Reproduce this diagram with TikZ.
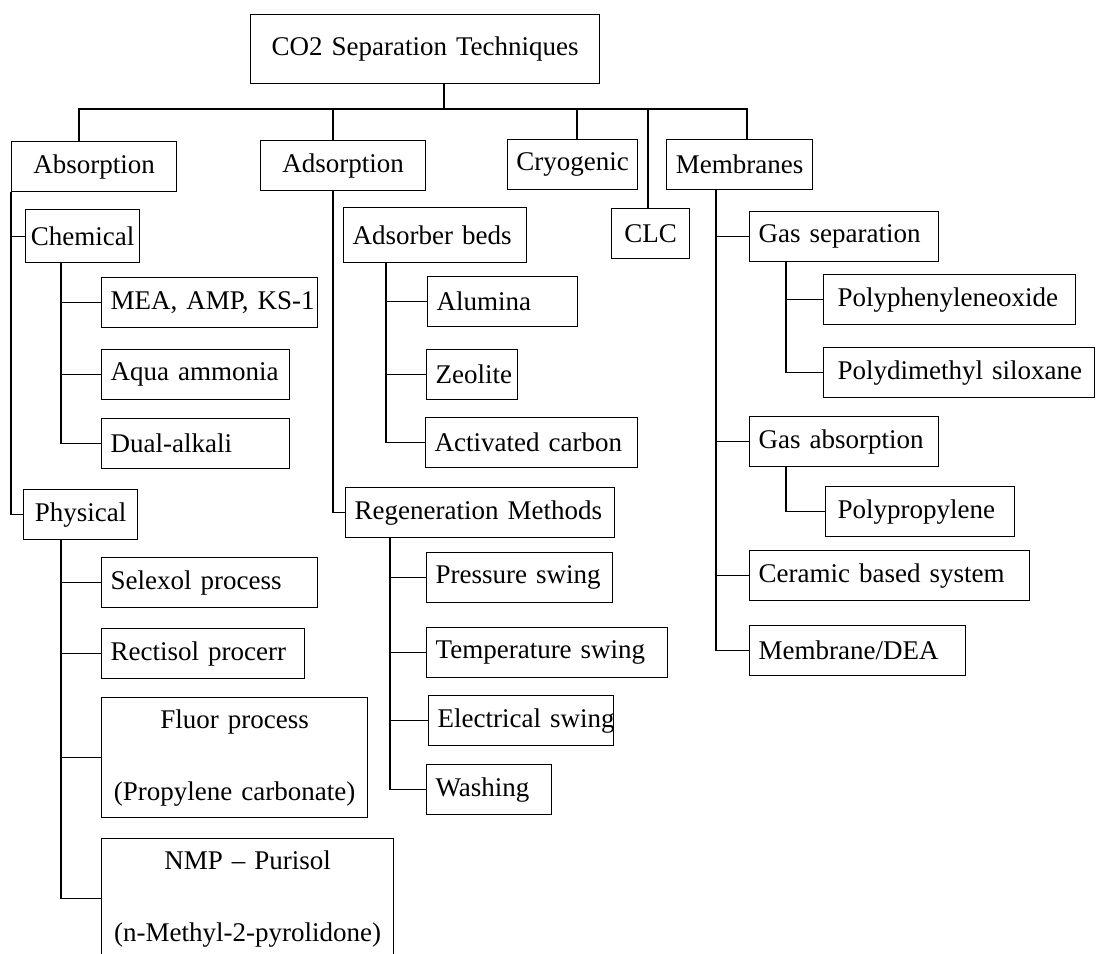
\documentclass[tikz,border=0pt]{standalone}
\usepackage{fontspec}
\setmainfont{Liberation Serif}

\begin{document}
\begin{tikzpicture}
	[x=1pt,y=-1pt,line width=1.3pt,
	 box/.style={draw,anchor=north west,inner ysep=0pt,minimum height=50pt,font=\fontsize{27}{32}\selectfont},
	 cbox/.style={box,inner xsep=0pt,text width=#1pt,align=center},
	 lbox/.style={box,inner xsep=9pt,text width=#1pt,align=left,
	   execute at begin node=\hbox\bgroup,execute at end node=\egroup},
	 twoline/.style={font=\fontsize{27}{72}\selectfont,minimum height=120pt}]
\useasboundingbox (0,0) rectangle (1097,953);
% top levels
\node[cbox=349,minimum height=69pt] (root) at (250,14) {CO2 Separation Techniques};
\node[cbox=165] (abs) at (11,141) {Absorption};
\node[cbox=165] (ads) at (260,140) {Adsorption};
\node[cbox=130] (cryo) at (507,139) {Cryogenic};
\node[cbox=146] (mem) at (666,139) {Membranes};
\node[cbox=78] (clc) at (611,208) {CLC};
% absorption
\node[cbox=114,minimum height=53pt] (chem) at (25,209) {Chemical};
\node[lbox=198] (mea) at (101,277) {MEA, AMP, KS-1};
\node[lbox=170] (aqua) at (101,349) {Aqua ammonia};
\node[lbox=170] (dual) at (101,418) {Dual-alkali};
\node[cbox=114] (phys) at (23,489) {Physical};
\node[lbox=198] (selex) at (101,557) {Selexol process};
\node[lbox=185] (rect) at (101,628) {Rectisol procerr};
\node[cbox=266,twoline] (fluor) at (101,697) {Fluor process\\(Propylene carbonate)};
\node[cbox=292,twoline] (nmp) at (101,838) {NMP -- Purisol\\(n-Methyl-2-pyrolidone)};
% adsorption
\node[lbox=165,minimum height=55pt] (beds) at (343,207) {Adsorber beds};
\node[lbox=132] (alu) at (427,276) {Alumina};
\node[lbox=73] (zeo) at (426,349) {Zeolite};
\node[lbox=194] (actc) at (425,417) {Activated carbon};
\node[lbox=251] (regen) at (345,487) {Regeneration Methods};
\node[lbox=168] (press) at (426,552) {Pressure swing};
\node[lbox=223] (temp) at (426,627) {Temperature swing};
\node[lbox=167] (elec) at (428,695) {Electrical swing};
\node[lbox=107] (wash) at (426,764) {Washing};
% membranes
\node[lbox=171] (gsep) at (749,211) {Gas separation};
\node[lbox=224,inner xsep=14pt] (ppo) at (823,274) {Polyphenyleneoxide};
\node[lbox=243,inner xsep=14pt] (pdms) at (823,347) {Polydimethyl siloxane};
\node[lbox=171] (gabs) at (749,416) {Gas absorption};
\node[lbox=165,inner xsep=12pt] (ppl) at (825,486) {Polypropylene};
\node[lbox=262] (cera) at (749,550) {Ceramic based system};
\node[lbox=198] (mdea) at (749,625) {Membrane/DEA};
% connectors
\coordinate (bus) at (444,109);
\draw (bus |- root.south) -- (bus);
\foreach \n/\x in {abs/79,ads/333,cryo/577,clc/648,mem/747}
\draw (\x,0 |- \n.north) -- (\x,0 |- bus) -- (bus);
\foreach \n in {chem,phys}
\draw (abs.south west) |- (\n.west);
\foreach \n in {mea,aqua,dual}
\draw (61,0 |- chem.south) |- (\n.west);
\foreach \n in {selex,rect,fluor,nmp}
\draw (61,0 |- phys.south) |- (\n.west);
\draw (333,0 |- ads.south) |- (regen.west);
\foreach \n in {alu,zeo,actc}
\draw (386,0 |- beds.south) |- (\n.west);
\foreach \n in {press,temp,elec,wash}
\draw (390,0 |- regen.south) |- (\n.west);
\foreach \n in {gsep,gabs,cera,mdea}
\draw (716,0 |- mem.south) |- (\n.west);
\foreach \n in {ppo,pdms}
\draw (786,0 |- gsep.south) |- (\n.west);
\draw (786,0 |- gabs.south) |- (ppl.west);
\end{tikzpicture}
\end{document}
